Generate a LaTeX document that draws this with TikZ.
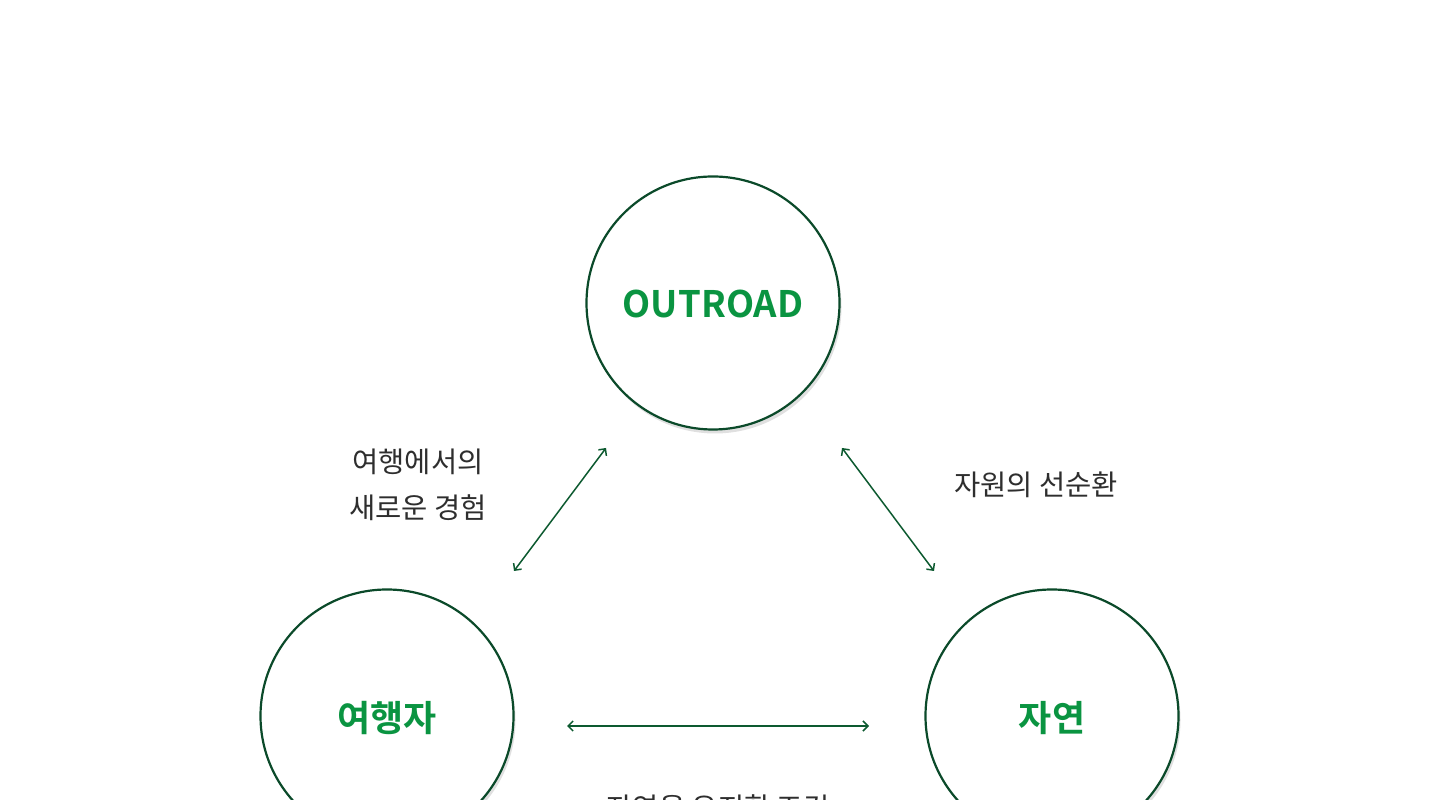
\documentclass[tikz,border=0pt]{standalone}
\usepackage{fontspec}
\newfontfamily\kr{Noto Sans CJK KR}
\newfontfamily\krb{Noto Sans CJK KR Bold}
\usetikzlibrary{shadows,arrows.meta}
\definecolor{ringgreen}{HTML}{0B4A2A}
\definecolor{textgreen}{HTML}{0A9441}
\definecolor{arrowgreen}{HTML}{0D5A30}
\definecolor{labelgray}{HTML}{2E2E2E}
\tikzset{
  ring/.style={circle, draw=ringgreen, line width=2.2pt, fill=white, minimum size=253pt, inner sep=0pt,
    drop shadow={shadow xshift=2pt, shadow yshift=-4pt, opacity=0.12, fill=black}},
  ringlabel/.style={text=textgreen, font=\krb\fontsize{36}{40}\selectfont},
  rel/.style={draw=arrowgreen, line width=1.5pt, {Straight Barb[length=5pt,width=10pt]}-{Straight Barb[length=5pt,width=10pt]}},
  lbl/.style={text=labelgray, font=\kr\fontsize{28.5}{46}\selectfont, align=center}
}
\begin{document}
\begin{tikzpicture}[x=1pt,y=1pt]
\useasboundingbox (0,0) rectangle (1440,800);
\fill[white] (0,0) rectangle (1440,800);
\node[ring] (top) at (713,497) {};
\node[ring] (left) at (387,84) {};
\node[ring] (right) at (1052,84) {};
\node[ringlabel, font=\krb\fontsize{36.5}{40}\selectfont] at ([yshift=-1pt]top) {OUTROAD};
\node[ringlabel] at ([yshift=-2pt]left) {여행자};
\node[ringlabel] at ([yshift=-2pt]right) {자연};
\coordinate (a1) at (514,229);
\coordinate (a2) at (606,352);
\coordinate (b1) at (842,352);
\coordinate (b2) at (934,229);
\coordinate (c1) at (567,74);
\coordinate (c2) at (869,74);
\draw[rel] (a1) -- (a2);
\draw[rel] (b1) -- (b2);
\draw[rel] (c1) -- (c2);
\node[lbl] (l1) at (418,315) {여행에서의\\새로운 경험};
\node[lbl] (l2) at (1036,315) {자원의 선순환};
\node[lbl] (l3) at (718,-8) {자연을 유지할 조건};
\end{tikzpicture}
\end{document}
